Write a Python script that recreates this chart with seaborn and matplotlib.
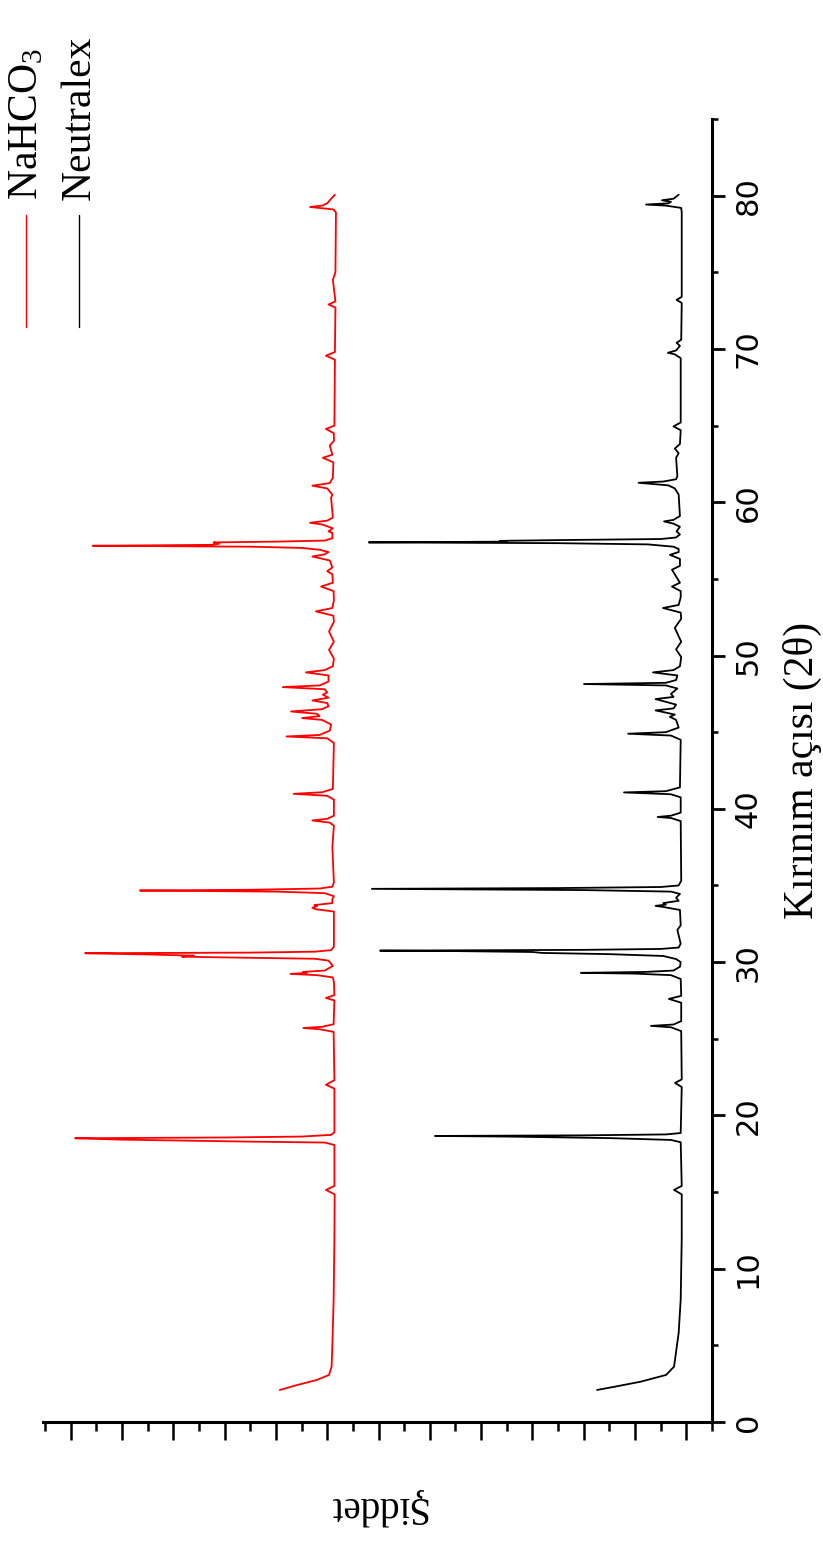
import matplotlib
matplotlib.use("Agg")
import matplotlib.pyplot as plt
from matplotlib.lines import Line2D
import seaborn as sns
import pandas as pd

# ---- data: (2theta, intensity [a.u.]) ----
nahco3_points = [
    (2.09, 16.85), (2.4, 16.2), (2.74, 15.41), (3.07, 14.93), (3.6, 14.83), (5.0, 14.80),
    (8.0, 14.75), (12.0, 14.72), (14.85, 14.71), (15.14, 15.05), (15.4, 14.72),
    (18.07, 14.72), (18.23, 15.09), (18.29, 18.0), (18.42, 23.0), (18.51, 24.83), (18.56, 19.0),
    (18.62, 16.0), (18.73, 14.85), (18.9, 14.72),
    (21.75, 14.72), (22.0, 15.05), (22.3, 14.72),
    (25.45, 14.75), (25.62, 15.3), (25.7, 15.93), (25.78, 15.2), (25.95, 14.75),
    (27.5, 14.72), (27.66, 15.05), (27.85, 14.72),
    (28.7, 14.74), (29.0, 14.78), (29.15, 15.4), (29.23, 16.43), (29.3, 15.8), (29.36, 15.95),
    (29.45, 15.1), (29.75, 14.78),
    (30.1, 14.95), (30.22, 15.5), (30.32, 19.5), (30.36, 20.66), (30.42, 20.2), (30.5, 22.0),
    (30.58, 24.44), (30.62, 18.0), (30.68, 15.5), (30.78, 14.85), (31.0, 14.74),
    (33.3, 14.74), (33.45, 15.45), (33.55, 15.58), (33.65, 15.4), (33.72, 15.5), (33.85, 14.8),
    (34.1, 14.8), (34.3, 14.74),
    (34.5, 15.1), (34.6, 17.0), (34.67, 22.3), (34.72, 18.0), (34.8, 15.3), (34.92, 14.8), (35.2, 14.74),
    (37.5, 14.8), (38.9, 14.74), (39.1, 14.9), (39.24, 15.58), (39.35, 15.0), (39.55, 14.74),
    (40.6, 14.74), (40.85, 15.0), (40.98, 16.31), (41.08, 15.2), (41.3, 14.78),
    (44.3, 14.74), (44.6, 15.0), (44.72, 16.59), (44.82, 15.3), (45.1, 14.9),
    (45.5, 14.85), (45.8, 15.2), (45.92, 15.98), (46.05, 15.3), (46.2, 15.4), (46.35, 16.41),
    (46.5, 15.2), (46.7, 14.95),
    (46.9, 15.0), (47.07, 15.58), (47.25, 14.95), (47.45, 15.17), (47.6, 15.0), (47.8, 15.1),
    (47.94, 16.73), (48.05, 15.3), (48.3, 14.95),
    (48.7, 14.95), (48.9, 15.83), (49.05, 15.1), (49.3, 14.78),
    (49.8, 14.74), (50.37, 14.93), (50.9, 14.74), (51.57, 14.93), (52.2, 14.74),
    (52.6, 14.76), (52.88, 15.44), (53.1, 14.8), (53.6, 14.74),
    (54.2, 14.75), (54.5, 15.24), (54.75, 14.78), (55.3, 14.8), (55.5, 15.0), (55.75, 14.8),
    (56.2, 14.9), (56.46, 15.58), (56.6, 15.1), (56.75, 14.95), (56.9, 15.3), (57.02, 16.0),
    (57.1, 18.0), (57.16, 24.14), (57.22, 19.5), (57.3, 19.2), (57.38, 19.43), (57.43, 17.0),
    (57.5, 15.1), (57.65, 14.8),
    (58.0, 14.8), (58.1, 14.95), (58.3, 14.78), (58.55, 15.2), (58.66, 15.67), (58.8, 15.0), (59.0, 14.78),
    (60.3, 14.85), (60.5, 14.8), (60.9, 15.0), (61.08, 15.58), (61.25, 14.9), (61.6, 14.78),
    (62.6, 14.76), (62.9, 15.17), (63.1, 14.8), (63.7, 14.9), (64.0, 14.74),
    (64.5, 14.74), (64.78, 15.05), (65.0, 14.72),
    (69.3, 14.70), (69.56, 15.05), (69.8, 14.70),
    (72.7, 14.68), (72.9, 14.95), (73.1, 14.68), (74.5, 14.78), (75.0, 14.68),
    (78.9, 14.66), (79.1, 14.75), (79.26, 15.67), (79.35, 15.2), (79.5, 15.0), (79.7, 14.9), (80.06, 14.7),
]

neutralex_points = [
    (2.09, 4.48), (2.3, 3.8), (2.63, 2.78), (3.07, 1.79), (3.61, 1.48), (5.8, 1.30), (8.0, 1.22),
    (12.0, 1.18), (14.85, 1.18), (15.14, 1.48), (15.4, 1.18),
    (18.25, 1.22), (18.4, 1.6), (18.52, 4.0), (18.62, 8.0), (18.66, 10.8), (18.7, 5.0), (18.76, 1.8), (18.85, 1.22),
    (21.85, 1.18), (22.12, 1.44), (22.35, 1.18),
    (25.5, 1.2), (25.75, 1.6), (25.84, 2.38), (25.93, 1.5), (26.15, 1.2),
    (27.35, 1.2), (27.6, 1.68), (27.8, 1.2),
    (28.9, 1.22), (29.15, 1.6), (29.25, 3.0), (29.3, 5.11), (29.36, 2.6), (29.45, 1.5), (29.7, 1.25),
    (30.0, 1.22), (30.2, 1.4), (30.4, 1.9), (30.52, 4.0), (30.6, 6.63), (30.66, 7.0), (30.72, 10.0),
    (30.75, 12.94), (30.8, 5.0), (30.86, 2.0), (30.95, 1.3), (31.2, 1.22),
    (32.1, 1.35), (32.4, 1.22),
    (33.4, 1.25), (33.6, 1.9), (33.67, 2.2), (33.75, 1.8), (33.85, 1.9), (34.0, 1.3), (34.2, 1.4),
    (34.45, 1.25), (34.6, 1.6), (34.7, 5.0), (34.78, 13.26), (34.83, 6.0), (34.9, 2.0), (35.0, 1.3), (35.3, 1.2),
    (39.2, 1.22), (39.4, 1.6), (39.47, 2.12), (39.55, 1.6), (39.75, 1.22),
    (40.75, 1.22), (40.95, 1.6), (41.07, 3.43), (41.15, 1.8), (41.4, 1.25),
    (44.5, 1.22), (44.78, 1.6), (44.9, 3.27), (45.0, 1.8), (45.3, 1.3),
    (45.8, 1.4), (46.0, 1.64), (46.15, 1.45), (46.42, 2.20), (46.55, 1.5), (46.8, 1.4), (47.16, 2.2),
    (47.3, 1.5), (47.5, 1.6),
    (47.85, 1.35), (48.05, 1.8), (48.14, 4.99), (48.22, 1.8), (48.4, 1.4),
    (48.7, 1.35), (48.9, 2.3), (49.05, 1.5), (49.3, 1.25),
    (49.9, 1.2), (50.4, 1.4), (50.9, 1.2), (51.8, 1.45), (52.4, 1.2),
    (52.8, 1.22), (53.1, 1.91), (53.3, 1.3), (53.8, 1.22),
    (54.2, 1.22), (54.5, 1.56), (54.75, 1.25), (55.6, 1.56), (55.85, 1.25),
    (56.3, 1.25), (56.57, 1.64), (56.75, 1.3),
    (56.95, 1.3), (57.1, 1.5), (57.25, 2.5), (57.33, 6.0), (57.38, 13.38), (57.43, 8.0), (57.48, 8.27),
    (57.53, 6.0), (57.6, 2.0), (57.7, 1.4), (57.9, 1.25),
    (58.1, 1.38), (58.4, 1.25), (58.6, 1.5), (58.75, 1.87), (58.85, 1.5), (59.1, 1.25),
    (60.5, 1.3), (60.9, 1.45), (61.1, 1.7), (61.27, 2.86), (61.35, 1.9), (61.5, 1.4), (61.7, 1.35),
    (62.9, 1.4), (63.2, 1.3), (63.5, 1.45), (63.8, 1.25),
    (64.7, 1.22), (64.95, 1.5), (65.2, 1.22),
    (69.4, 1.22), (69.65, 1.45), (69.75, 1.72), (69.9, 1.4), (70.2, 1.25), (70.4, 1.38), (70.6, 1.2),
    (73.0, 1.18), (73.2, 1.38), (73.4, 1.18),
    (78.9, 1.18), (79.2, 1.2), (79.35, 1.8), (79.42, 2.57), (79.5, 1.7), (79.6, 1.6), (79.7, 1.95),
    (79.8, 1.5), (80.06, 1.3),
]

series_names = ["NaHCO3", "Neutralex"]
legend_labels = [r"NaHCO$_\mathregular{3}$", "Neutralex"]
series_colors = {"NaHCO3": "#ff0000", "Neutralex": "#000000"}
angle_ticks = [0, 10, 20, 30, 40, 50, 60, 70, 80]
x_label = "Kırınım açısı (2θ)"
y_label = "Şiddet"

rows = []
for name, pts in zip(series_names, [nahco3_points, neutralex_points]):
    for i, (t, v) in enumerate(pts):
        rows.append({"sample": name, "order": i, "two_theta": t, "intensity": v})
df = pd.DataFrame(rows)

# ---- figure ----
sns.set_style("white")
plt.rcParams["font.family"] = ["Liberation Serif", "DejaVu Serif"]
plt.rcParams["mathtext.fontset"] = "custom"
plt.rcParams["mathtext.rm"] = "Liberation Serif"
plt.rcParams["mathtext.it"] = "Liberation Serif:italic"
plt.rcParams["mathtext.bf"] = "Liberation Serif:bold"
for key in ["text.color", "axes.labelcolor", "xtick.color", "ytick.color", "axes.edgecolor"]:
    plt.rcParams[key] = "black"

W, H = 823, 1547
fig = plt.figure(figsize=(W / 100, H / 100), dpi=100)
fig.patch.set_facecolor("white")
ax = fig.add_axes([43 / W, 125 / H, 669 / W, 1303 / H])
ax.set_facecolor("white")

sns.lineplot(data=df, x="intensity", y="two_theta", hue="sample", palette=series_colors,
             orient="y", sort=False, estimator=None, units="sample", legend=False,
             linewidth=1.3, ax=ax)

ax.set_xlim(26.08, 0)
ax.set_ylim(0, 85)
ax.set_xlabel("")
ax.set_ylabel("")

for s in ["left", "top"]:
    ax.spines[s].set_visible(False)
for s in ["right", "bottom"]:
    ax.spines[s].set_visible(True)
    ax.spines[s].set_linewidth(2.2)
    ax.spines[s].set_color("black")

ax.yaxis.tick_right()
ax.set_yticks(angle_ticks)
ax.set_yticks([5, 15, 25, 35, 45, 55, 65, 75, 85], minor=True)
ax.set_yticklabels([str(t) for t in angle_ticks], family="DejaVu Sans", fontsize=22, rotation=90,
                   va="center", color="black")
ax.tick_params(axis="y", which="major", direction="out", length=9.5, width=2.0, pad=6,
               right=True, left=False, colors="black")
ax.tick_params(axis="y", which="minor", direction="out", length=4.5, width=1.8,
               right=True, left=False, colors="black")

ax.set_xticks(list(range(1, 26, 2)))
ax.set_xticks(list(range(0, 27, 2)), minor=True)
ax.tick_params(axis="x", which="major", direction="out", length=13, width=1.8,
               labelbottom=False, bottom=True, top=False, colors="black")
ax.tick_params(axis="x", which="minor", direction="out", length=6.5, width=1.8,
               bottom=True, top=False, colors="black")
ax.grid(False)

# axis titles (rotated like the reference)
fig.text(813 / W, 1 - 770 / H, x_label, rotation=90, rotation_mode="anchor",
         ha="center", va="baseline", fontsize=30, family="Liberation Serif", color="black")
fig.text(377 / W, 1 - 1507 / H, y_label, rotation=180, ha="center", va="center",
         fontsize=28, family="Liberation Serif", color="black")

# legend (rotated)
for lbl, name, xline, xbase in zip(legend_labels, series_names, [26, 79], [37, 90]):
    fig.add_artist(Line2D([xline / W, xline / W], [1 - 215 / H, 1 - 327 / H],
                          transform=fig.transFigure, color=series_colors[name], linewidth=1.0))
    fig.text(xbase / W, 1 - 200 / H, lbl, rotation=90, rotation_mode="anchor",
             ha="left", va="baseline", fontsize=30, family="Liberation Serif", color="black")

fig.savefig("out.png", dpi=100, facecolor="white")
